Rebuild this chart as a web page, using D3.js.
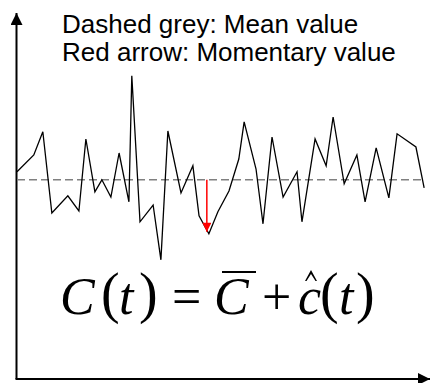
<!DOCTYPE html>
<html>
<head>
<meta charset="utf-8">
<script src="https://cdn.jsdelivr.net/npm/d3@7/dist/d3.min.js"></script>
<style>
  html, body { margin: 0; padding: 0; background: #fff; }
  svg { display: block; }
</style>
</head>
<body>
<svg id="chart" width="430" height="383"></svg>
<script>
// Fluctuating concentration signal C(t) over time
const times = [0, 4.1, 6.3, 8.5, 12.4, 15.1, 16.8, 19.0, 20.7, 22.9, 24.9, 27.3, 28.0, 30.0,
  33.2, 35.1, 36.8, 40.0, 42.9, 44.4, 46.8, 49.0, 51.7, 54.1, 55.4, 58.3, 60.0, 62.2,
  64.9, 68.3, 69.5, 72.7, 75.4, 77.1, 79.8, 82.9, 84.9, 87.6, 90.7, 92.7, 97.3, 99.3];
const values = [5.18, 5.6, 6.18, 4.15, 4.58, 4.2, 6.0, 4.68, 4.98, 4.55, 5.65, 4.43, 7.58, 3.93,
  4.35, 2.98, 6.2, 4.65, 5.33, 4.08, 3.63, 4.18, 4.7, 5.5, 6.43, 5.25, 3.88, 6.05,
  4.55, 5.18, 3.93, 6.0, 5.33, 6.55, 4.88, 5.6, 4.43, 5.78, 4.53, 6.13, 5.8, 4.78];
const meanValue = 4.98;
const meanSpan = [0, 99.5];
const momentTime = 46.3;
const momentValue = 3.68;
const legendLines = ["Dashed grey: Mean value", "Red arrow: Momentary value"];

const svg = d3.select("#chart");
const x = d3.scaleLinear().domain([0, 100]).range([17, 427]);
const y = d3.scaleLinear().domain([0, 9.15]).range([379, 13]);

// arrowheads
const defs = svg.append("defs");
defs.append("marker").attr("id", "axisHead")
  .attr("viewBox", "0 0 12 12").attr("refX", 12).attr("refY", 6)
  .attr("markerWidth", 12).attr("markerHeight", 12)
  .attr("markerUnits", "userSpaceOnUse").attr("orient", "auto")
  .append("path").attr("d", "M0,0 L12,6 L0,12 Z").attr("fill", "#000");
defs.append("marker").attr("id", "redHead")
  .attr("viewBox", "0 0 10 10").attr("refX", 10).attr("refY", 5)
  .attr("markerWidth", 10).attr("markerHeight", 9)
  .attr("markerUnits", "userSpaceOnUse").attr("orient", "auto")
  .append("path").attr("d", "M0,0 L10,5 L0,10 Z").attr("fill", "#ff0000");

// axes
const x0 = x(0) - 0.5;
svg.append("line").attr("x1", x0).attr("y1", y(0)).attr("x2", x0).attr("y2", y(9.15))
  .attr("stroke", "#000").attr("stroke-width", 2).attr("marker-end", "url(#axisHead)");
svg.append("line").attr("x1", x0 - 1).attr("y1", y(0)).attr("x2", 430).attr("y2", y(0))
  .attr("stroke", "#000").attr("stroke-width", 2).attr("marker-end", "url(#axisHead)");

// mean level
svg.append("line")
  .attr("x1", x(meanSpan[0])).attr("x2", x(meanSpan[1]))
  .attr("y1", y(meanValue)).attr("y2", y(meanValue))
  .attr("stroke", "#808080").attr("stroke-width", 1.5)
  .attr("stroke-dasharray", "8,4");

// signal
const series = times.map((t, i) => [t, values[i]]);
svg.append("path").datum(series)
  .attr("d", d3.line().x(d => x(d[0])).y(d => y(d[1])))
  .attr("fill", "none").attr("stroke", "#000").attr("stroke-width", 1.3)
  .attr("stroke-linejoin", "miter");

// momentary deviation
svg.append("line")
  .attr("x1", x(momentTime)).attr("x2", x(momentTime))
  .attr("y1", y(meanValue)).attr("y2", y(momentValue))
  .attr("stroke", "#ff0000").attr("stroke-width", 1.5)
  .attr("marker-end", "url(#redHead)");

// legend text
svg.append("g").selectAll("text").data(legendLines).join("text")
  .attr("x", 62).attr("y", (d, i) => 33 + i * 28)
  .attr("font-family", "'Liberation Sans', Arial, sans-serif")
  .attr("font-size", 26).attr("fill", "#000")
  .text(d => d);

// formula C(t) = C̄ + ĉ(t), set glyph by glyph like an equation editor
const eqGlyphs = [
  { s: "C", it: true,  x: 60,  size: 52 },
  { s: "(", it: false, x: 101, size: 56 },
  { s: "t", it: true,  x: 119, size: 52 },
  { s: ")", it: false, x: 139, size: 56 },
  { s: "=", it: false, x: 172, size: 52 },
  { s: "C", it: true,  x: 214, size: 52, bar: true },
  { s: "+", it: false, x: 262, size: 52 },
  { s: "c", it: true,  x: 298, size: 52, hat: true },
  { s: "(", it: false, x: 320, size: 56 },
  { s: "t", it: true,  x: 339, size: 52 },
  { s: ")", it: false, x: 356, size: 56 }
];
const eq = svg.append("g")
  .attr("font-family", "'Liberation Serif', 'Times New Roman', serif")
  .attr("fill", "#000");
eqGlyphs.forEach(g => {
  eq.append("text")
    .attr("x", g.x).attr("y", g.size > 52 ? 312 : 314)
    .attr("font-size", g.size)
    .attr("font-style", g.it ? "italic" : "normal")
    .text(g.s);
  if (g.bar) {
    eq.append("line").attr("x1", g.x + 8).attr("x2", g.x + 42)
      .attr("y1", 272).attr("y2", 272).attr("stroke", "#000").attr("stroke-width", 2);
  }
  if (g.hat) {
    const hc = g.x + 13;
    eq.append("path")
      .attr("d", `M${hc - 6},281 L${hc},270 L${hc + 6},281 L${hc + 4.5},281 L${hc},274 L${hc - 4.5},281 Z`);
  }
});
</script>
</body>
</html>
